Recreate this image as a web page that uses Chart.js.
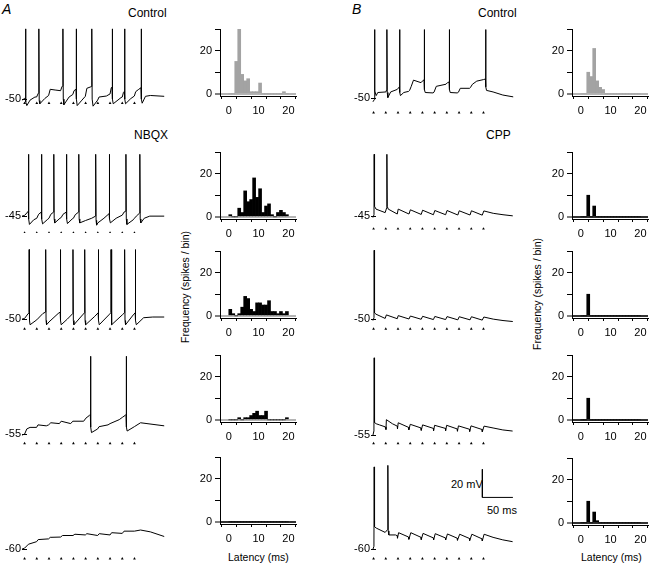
<!DOCTYPE html>
<html>
<head>
<meta charset="utf-8">
<script src="https://cdn.jsdelivr.net/npm/chart.js@4.4.1/dist/chart.umd.min.js"></script>
<style>
body { margin:0; width:654px; height:566px; position:relative; overflow:hidden; background:#fff;
       font-family:"Liberation Sans", Arial, sans-serif; color:#000; }
canvas { position:absolute; }
.t { position:absolute; white-space:nowrap; line-height:1; font-size:12px; }
.rot { position:absolute; white-space:nowrap; line-height:1; font-size:10.5px; transform:translate(-50%,-50%) rotate(-90deg); }
</style>
</head>
<body>
<div class="t" style="left:2px;top:1.5px;font-size:14px;font-style:italic">A</div>
<div class="t" style="left:352px;top:1.5px;font-size:14px;font-style:italic">B</div>
<div class="t" style="left:128px;top:7px">Control</div>
<div class="t" style="left:478px;top:7px">Control</div>
<div class="t" style="left:134px;top:128.5px">NBQX</div>
<div class="t" style="left:486px;top:128.5px">CPP</div>
<div class="rot" style="left:185px;top:287px">Frequency (spikes / bin)</div>
<div class="rot" style="left:536.5px;top:293.5px">Frequency (spikes / bin)</div>
<div class="t" style="left:228px;top:551.5px;font-size:10.5px">Latency (ms)</div>
<div class="t" style="left:581px;top:551.5px;font-size:10.5px">Latency (ms)</div>
<div class="t" style="left:451px;top:478.5px;font-size:11px">20 mV</div>
<div class="t" style="left:487px;top:505px;font-size:11px">50 ms</div>

<script>
// ---- data ----
// stimulus times (ms), 10 pulses at 50 Hz
const STIM_T = [0, 20, 40, 60, 80, 100, 120, 140, 160, 180];

// latency histograms, 1 ms bins
const HIST_BINS = [0.5, 1.5, 2.5, 3.5, 4.5, 5.5, 6.5, 7.5, 8.5, 9.5, 10.5, 11.5, 12.5, 13.5, 14.5, 15.5, 16.5, 17.5, 18.5, 19.5];
const HIST_A_CONTROL = [0, 0, 15, 30, 9, 6, 7, 1, 1, 1, 5, 0, 0, 0, 0, 0, 0, 0, 1, 0];
const HIST_A_NBQX_45 = [1, 0, 0, 4, 2, 12, 7, 8, 18, 9, 13, 2, 5, 6, 1, 0, 2, 3, 2, 1];
const HIST_A_NBQX_50 = [3, 1, 0, 1, 4, 9, 8, 3, 2, 6, 6, 5, 5, 7, 2, 2, 1, 2, 1, 2];
const HIST_A_NBQX_55 = [0, 0, 0, 1, 0, 1, 1, 2, 3, 4, 2, 2, 4, 0, 0, 0, 0, 0, 0, 1];
const HIST_A_NBQX_60 = [0, 0, 0, 0, 0, 0, 0, 0, 0, 0, 0, 0, 0, 0, 0, 0, 0, 0, 0, 0];
const HIST_B_CONTROL = [0, 0, 10, 8, 21, 6, 3, 2, 0, 0, 0, 0, 0, 0, 0, 0, 0, 0, 0, 0];
const HIST_B_CPP_45 = [0, 0, 10, 0, 5, 0, 0, 0, 0, 0, 0, 0, 0, 0, 0, 0, 0, 0, 0, 0];
const HIST_B_CPP_50 = [0, 0, 10, 0, 0, 0, 0, 0, 0, 0, 0, 0, 0, 0, 0, 0, 0, 0, 0, 0];
const HIST_B_CPP_55 = [0, 0, 10, 0, 0, 0, 0, 0, 0, 0, 0, 0, 0, 0, 0, 0, 0, 0, 0, 0];
const HIST_B_CPP_60 = [0, 0, 10, 0, 5, 1, 0, 0, 0, 0, 0, 0, 0, 0, 0, 0, 0, 0, 0, 0];
const HIST_X_TICKS = [0, 5, 10, 15, 20];
const HIST_X_LABELS = [0, 10, 20];
const HIST_Y_TICKS = [0, 10, 20, 30];
const HIST_Y_LABELS = [0, 20];

// membrane potential traces, [ms, mV]
const TRACE_A_CONTROL = [[-4.3,-50.7],[0,-49.6],[1.2,-49],[1.6,0],[2.2,-52],[3.7,-54.6],[9,-50.7],[17,-48.5],[19.7,-48.5],[22,-46.3],[23.1,-45.5],[23.4,0],[24,-51],[25,-53.3],[33,-49.6],[39.4,-47.4],[42,-43],[50,-43.5],[59,-44],[61,-41.4],[62.5,-40.5],[62.8,0],[63.4,-50],[64.4,-54],[72.9,-48.5],[79,-46.7],[81,-44],[84.3,-43],[84.6,0],[85.2,-50],[86.2,-54.6],[94,-50.7],[99.5,-48],[102,-42.3],[107.4,-41.4],[109.8,-41],[110.1,0],[110.7,-50],[112.2,-55],[119.7,-50.7],[122,-48.5],[134,-47.8],[140,-46.3],[142,-41.9],[143.3,-41.5],[143.6,0],[144.2,-50],[145.2,-53.3],[158,-48.9],[160,-48.5],[162,-45.2],[163.5,-44.5],[163.8,0],[164.4,-50],[165.4,-53.3],[174,-49.6],[179.8,-47.8],[182,-44.7],[187,-43],[190.7,-41.9],[191,0],[191.6,-50],[192.6,-52.9],[198,-48],[206,-47.4],[228.7,-48]];
const TRACE_A_NBQX_45 = [[-4.3,-45],[0,-44.5],[5,-42.1],[6.1,-41.5],[6.4,-1],[7,-47],[8,-50.9],[15,-47.6],[20,-46.5],[23,-43.7],[27.4,-42.1],[27.7,-1],[28.3,-47],[29.5,-50.5],[38,-47.2],[40,-46.5],[43,-43.7],[47.6,-42.1],[47.9,-1],[48.5,-47],[49.5,-49.8],[58,-46.5],[60,-46],[63,-43.7],[68.3,-42.1],[68.6,-1],[69.2,-47],[70.2,-50.3],[78,-47],[80,-46.5],[83,-44],[88.5,-42.1],[88.8,-1],[89.4,-47],[90.4,-49.8],[100,-48.1],[110,-46.5],[116.2,-45],[116.5,-1],[117.1,-48],[118,-51.4],[120,-49.8],[130,-46.5],[138.5,-43.2],[138.8,-1],[139.4,-47],[140.5,-49.8],[150,-46.5],[160,-44.3],[163,-42.1],[165.7,-41.5],[166,-1],[166.6,-47],[167.6,-50.9],[178,-47.6],[180,-46.5],[183,-45],[188.5,-42.8],[188.8,-1],[189.4,-47],[190.4,-49.8],[196,-46.5],[205,-45],[228.7,-45]];
const TRACE_A_NBQX_50 = [[-4.3,-50],[0,-49.5],[6,-46],[7.2,-45.5],[7.5,-0.5],[8.1,-51],[9,-54],[20,-50.5],[30,-46],[34.3,-45],[34.6,-0.5],[35.2,-51],[36,-54],[40,-52],[55,-46],[58.3,-45],[58.6,-0.5],[59.2,-51],[60,-54],[70,-50],[79,-46],[79.3,-0.5],[79.9,-51],[80.8,-54],[95,-47],[98.2,-45.5],[98.5,-0.5],[99.1,-51],[100,-54],[115,-48],[120.5,-45.5],[120.8,-0.5],[121.4,-51],[122.3,-54],[138,-47],[141.3,-45.5],[141.6,-0.5],[142.2,-51],[143,-54],[160,-47],[163.6,-45.5],[163.9,-0.5],[164.5,-51],[165.4,-54],[178,-47],[181.1,-45.5],[181.4,-0.5],[182,-51],[183,-54],[195,-49],[210,-48.5],[228.7,-48.5]];
const TRACE_A_NBQX_55 = [[-4.3,-55.7],[0,-55],[3.7,-51.3],[9,-50.2],[19.7,-50.2],[22,-48.4],[35.6,-49.1],[39.4,-48.4],[43,-46.9],[57,-47.5],[60,-45.8],[75.5,-47.5],[79,-45.8],[96.8,-45.8],[100.5,-43.6],[105.9,-41.8],[107.7,-41],[108,0.4],[108.6,-50],[109.6,-53.9],[119.7,-51.3],[122,-49.7],[136.7,-48.4],[140,-47.5],[155,-44.7],[160,-43.1],[164.4,-41.8],[166.2,-41],[166.5,0.4],[167.1,-50],[168,-52.8],[179.8,-49.7],[190,-46.9],[200.5,-47.5],[228.7,-49.1]];
const TRACE_A_NBQX_60 = [[-4.3,-60],[0,-59.3],[6.4,-56.5],[19.7,-54.7],[22.3,-53.2],[39.4,-52.7],[42,-51.6],[59,-51.4],[62.2,-50.3],[79.3,-50.3],[82.4,-49.4],[99.5,-49.9],[102,-49],[119.7,-50.3],[122.3,-49],[140,-49.9],[142.6,-48.3],[160,-48.8],[163,-47.2],[179.8,-47.2],[190,-46.4],[206,-47.7],[228.7,-51]];
const TRACE_B_CONTROL = [[-1,-52.6],[1.3,-51],[1.6,-1.2],[2.2,-45],[4.3,-48.2],[6.9,-46],[20.2,-45.6],[21.5,-44],[21.8,-1.2],[22.4,-46],[23.4,-49.6],[28,-45.6],[38.8,-43.8],[42.3,-42],[42.6,-1.2],[43.2,-46],[44,-48.2],[49.5,-46],[57.4,-45.2],[59,-44.5],[61.7,-41.6],[65.4,-37.2],[77.7,-39],[79.8,-37.9],[82.7,-37],[83,-1.2],[83.6,-44],[84.6,-46],[97.3,-46.3],[99,-45.8],[102.7,-41.6],[118.6,-40.1],[121,-39],[123.7,-38.5],[124,-1.2],[124.6,-44],[125.5,-46],[137,-46.3],[139,-45.8],[142,-43],[157.4,-43],[158.5,-42.5],[162,-40.1],[169,-37.9],[180,-36.8],[183.2,-36.4],[183.5,-1.2],[184.1,-42],[185,-44.5],[195.7,-45.6],[211.7,-47.8],[228.7,-49.1]];
const TRACE_B_CPP_45 = [[-1,-46],[0.7,-44],[1,-1],[1.6,-38],[4,-40],[19,-42.5],[21.5,-39],[21.8,-1],[22.4,-38],[24,-40],[38.8,-43.5],[40.4,-40],[58,-43.5],[60.3,-40.5],[78,-43.8],[80.3,-40.8],[98,-44],[100.3,-41],[118,-44],[120.3,-41],[138,-44.2],[140.3,-41.2],[158,-44.2],[160.3,-41.2],[178,-44.3],[180.6,-41.3],[196,-43],[212,-44],[228,-44.8]];
const TRACE_B_CPP_50 = [[-1,-51],[0.7,-49],[1,-1],[1.6,-45.5],[4,-46.5],[19,-49.5],[21,-47],[38.8,-49.7],[40.4,-47.5],[58,-49.9],[60.3,-47.8],[78,-50.1],[80.3,-48],[98,-50.3],[100.3,-48.1],[118,-50.3],[120.3,-48.2],[138,-50.5],[140.3,-48.3],[158,-50.5],[160.3,-48.3],[178,-50.7],[180.6,-48.5],[196,-50],[212,-51],[228,-51.7]];
const TRACE_B_CPP_55 = [[-1,-55],[0.6,-52],[1,0],[1.6,-46],[4.3,-46.9],[9.6,-47.7],[19,-49.1],[20.3,-51],[21,-44],[30.9,-46.9],[38.8,-48.6],[39.2,-50.5],[40.4,-46.2],[57.4,-49.5],[57.8,-51.2],[60.1,-47.3],[77.7,-49.9],[78.1,-51.6],[80.3,-47.7],[97.9,-50.2],[98.3,-51.8],[100,-48],[117.6,-50.2],[118,-51.8],[119.7,-48],[137,-50.6],[137.4,-52.2],[139,-48.4],[157,-50.8],[157.4,-52.4],[159.6,-48.4],[177.7,-51],[178.1,-52.6],[180.9,-48.6],[195.7,-49.9],[211.7,-51.3],[227.7,-52.1]];
const TRACE_B_CPP_60 = [[-1,-60],[0.6,-58],[1,-1.5],[1.6,-44],[4.3,-45],[19,-48.1],[23.1,-46],[23.4,-0.4],[24,-47],[25,-49.9],[36,-49.9],[38.8,-50.5],[39.2,-52.2],[41,-48.3],[57.4,-51.4],[57.8,-53],[61,-48.3],[77.7,-51.6],[78.1,-53.2],[81,-48.8],[97.9,-52],[98.3,-53.5],[101,-49],[117.6,-52],[118,-53.5],[121,-49.2],[137,-52.2],[137.4,-53.7],[141,-49.4],[157,-52.4],[157.4,-53.9],[161,-49.4],[177.7,-52.7],[178.1,-54.1],[181,-49.4],[195.7,-51.6],[211.7,-53.4],[227.7,-54.7]];

// holding potential label and stimulus marker level per trace (mV)
const HOLD_V = { A1: -50, A2: -45, A3: -50, A4: -55, A5: -60, B1: -50, B2: -45, B3: -50, B4: -55, B5: -60 };
const MARK_V = { A1: -52.9, A2: -56.9, A3: -57, A4: -61.6, A5: -66.8, B1: -60.3, B2: -54, B3: -57, B4: -60.9, B5: -66.8 };

// calibration bar
const SCALE_T = 178.2, SCALE_V = -23.2, SCALE_MS = 50, SCALE_MV = 20;

// ---- layout (pixels) ----
const PX_MS = 0.6267, PX_MV = 1.515;     // trace scale
const T_MIN = -4.2, T_MAX = 230;
const TRACE_YW = 22;
const H_PX_MS = 3.735, H_PX_N = 2.15;     // histogram scale
const H_XMIN = -0.4, H_XMAX = 20, H_YMIN = -1, H_YMAX = 30;
const H_YW = 24, H_XH = 24, H_PADT = 4, H_PADR = 8;

Chart.defaults.font.family = '"Liberation Sans", Arial, sans-serif';
Chart.defaults.color = '#000';

function newCanvas(left, top, w, h) {
    let c = document.createElement('canvas');
    c.width = Math.round(w);
    c.height = Math.round(h);
    c.style.left = Math.round(left) + 'px';
    c.style.top = Math.round(top) + 'px';
    document.body.appendChild(c);
    return c.getContext('2d');
}

function traceChart(key, x0, y0, pts, extra) {
    let v0 = HOLD_V[key];
    let vmin = v0 - 12, vmax = v0 + 62;
    let areaLeft = x0 + T_MIN * PX_MS;
    let w = TRACE_YW + (T_MAX - T_MIN) * PX_MS;
    let h = (vmax - vmin) * PX_MV;
    let ctx = newCanvas(areaLeft - TRACE_YW, y0 - (vmax - v0) * PX_MV, w, h);
    let datasets = [{
            data: pts.map(p => ({x: p[0], y: p[1]})),
            borderColor: '#000',
            borderWidth: 1,
            borderJoinStyle: 'round',
            pointRadius: 0,
            tension: 0
        },
        {
            data: STIM_T.map(t => ({x: t, y: MARK_V[key]})),
            showLine: false,
            pointStyle: 'triangle',
            pointRadius: 1.6,
            backgroundColor: '#000',
            borderWidth: 0
        }]
    if (extra) datasets.push(extra)
    new Chart(ctx, {
        type: 'line',
        data: { datasets: datasets },
        options: {
            animation: false,
            responsive: false,
            events: [],
            layout: { padding: 0 },
            plugins: { legend: { display: false }, tooltip: { enabled: false } },
            scales: {
                x: { type: 'linear', min: T_MIN, max: T_MAX, display: false },
                y: {
                    min: vmin, max: vmax,
                    afterBuildTicks: s => { s.ticks = [{value: v0}] },
                    afterFit: s => { s.width = TRACE_YW; s.paddingTop = 0; s.paddingBottom = 0 },
                    border: { display: false },
                    grid: { drawOnChartArea: false, tickLength: -5, color: '#000' },
                    ticks: { padding: 6, color: '#000', font: { size: 11 } }
                }
            }
        }
    });
}

function histChart(x0, y0, vals, color, baseColor) {
    let areaLeft = x0 + H_XMIN * H_PX_MS;
    let areaTop = y0 - H_YMAX * H_PX_N;
    let areaW = (H_XMAX - H_XMIN) * H_PX_MS;
    let areaH = (H_YMAX - H_YMIN) * H_PX_N;
    let ctx = newCanvas(areaLeft - H_YW, areaTop - H_PADT, H_YW + areaW + H_PADR, H_PADT + areaH + H_XH);
    new Chart(ctx, {
        type: 'bar',
        data: {
            datasets: [{
                data: HIST_BINS.map((b, i) => ({x: b, y: vals[i]})),
                backgroundColor: color,
                borderWidth: 0,
                barPercentage: 1,
                categoryPercentage: 1
            }]
        },
        options: {
            animation: false,
            responsive: false,
            events: [],
            layout: { padding: { top: H_PADT, right: H_PADR, left: 0, bottom: 0 } },
            plugins: { legend: { display: false }, tooltip: { enabled: false } },
            scales: {
                x: {
                    type: 'linear', min: H_XMIN, max: H_XMAX,
                    afterBuildTicks: s => { s.ticks = HIST_X_TICKS.map(v => ({value: v})) },
                    afterFit: s => { s.height = H_XH; s.paddingLeft = 0; s.paddingRight = 0 },
                    border: { color: '#000', width: 1 },
                    grid: { drawOnChartArea: false, tickLength: 3, color: '#000' },
                    ticks: { padding: 5, maxRotation: 0, autoSkip: false, font: { size: 11 },
                             callback: v => HIST_X_LABELS.includes(v) ? String(v) : '' }
                },
                y: {
                    min: H_YMIN, max: H_YMAX,
                    afterBuildTicks: s => { s.ticks = HIST_Y_TICKS.map(v => ({value: v})) },
                    afterFit: s => { s.width = H_YW; s.paddingTop = 0; s.paddingBottom = 0 },
                    border: { color: '#000', width: 1 },
                    grid: {
                        drawOnChartArea: true, tickLength: 5,
                        color: c => (c.tick && c.tick.value === 0) ? baseColor : 'rgba(0,0,0,0)',
                        lineWidth: c => (c.tick && c.tick.value === 0) ? 2 : 1,
                        tickColor: '#000', tickWidth: 1
                    },
                    ticks: { padding: 3, font: { size: 11 },
                             callback: v => HIST_Y_LABELS.includes(v) ? String(v) : '' }
                }
            }
        }
    });
}

// panel A traces (t = 0 at x 24.3) and B traces (t = 0 at x 374)
traceChart('A1', 24.3, 102.3, TRACE_A_CONTROL);
traceChart('A2', 24.3, 219.3, TRACE_A_NBQX_45);
traceChart('A3', 24.3, 322, TRACE_A_NBQX_50);
traceChart('A4', 24.3, 437.3, TRACE_A_NBQX_55);
traceChart('A5', 24.3, 552, TRACE_A_NBQX_60);
traceChart('B1', 374, 100.5, TRACE_B_CONTROL);
traceChart('B2', 374, 219.3, TRACE_B_CPP_45);
traceChart('B3', 374, 322, TRACE_B_CPP_50);
traceChart('B4', 374, 438.3, TRACE_B_CPP_55);
traceChart('B5', 374, 552, TRACE_B_CPP_60, {
    data: [{x: SCALE_T, y: SCALE_V + SCALE_MV}, {x: SCALE_T, y: SCALE_V}, {x: SCALE_T + SCALE_MS, y: SCALE_V}],
    borderColor: '#000', borderWidth: 1, pointRadius: 0, tension: 0
});

// histograms
histChart(221, 93.7, HIST_A_CONTROL, '#a3a3a3', '#b4b4b4');
histChart(221, 216.3, HIST_A_NBQX_45, '#000', '#b4b4b4');
histChart(221, 315.7, HIST_A_NBQX_50, '#000', '#b4b4b4');
histChart(221, 419.3, HIST_A_NBQX_55, '#000', '#b4b4b4');
histChart(221, 521.3, HIST_A_NBQX_60, '#000', '#333');
histChart(573.3, 93.7, HIST_B_CONTROL, '#a3a3a3', '#b4b4b4');
histChart(573.3, 216.3, HIST_B_CPP_45, '#000', '#333');
histChart(573.3, 315.3, HIST_B_CPP_50, '#000', '#333');
histChart(573.3, 419.7, HIST_B_CPP_55, '#000', '#333');
histChart(573.3, 522, HIST_B_CPP_60, '#000', '#333');
</script>
</body>
</html>
